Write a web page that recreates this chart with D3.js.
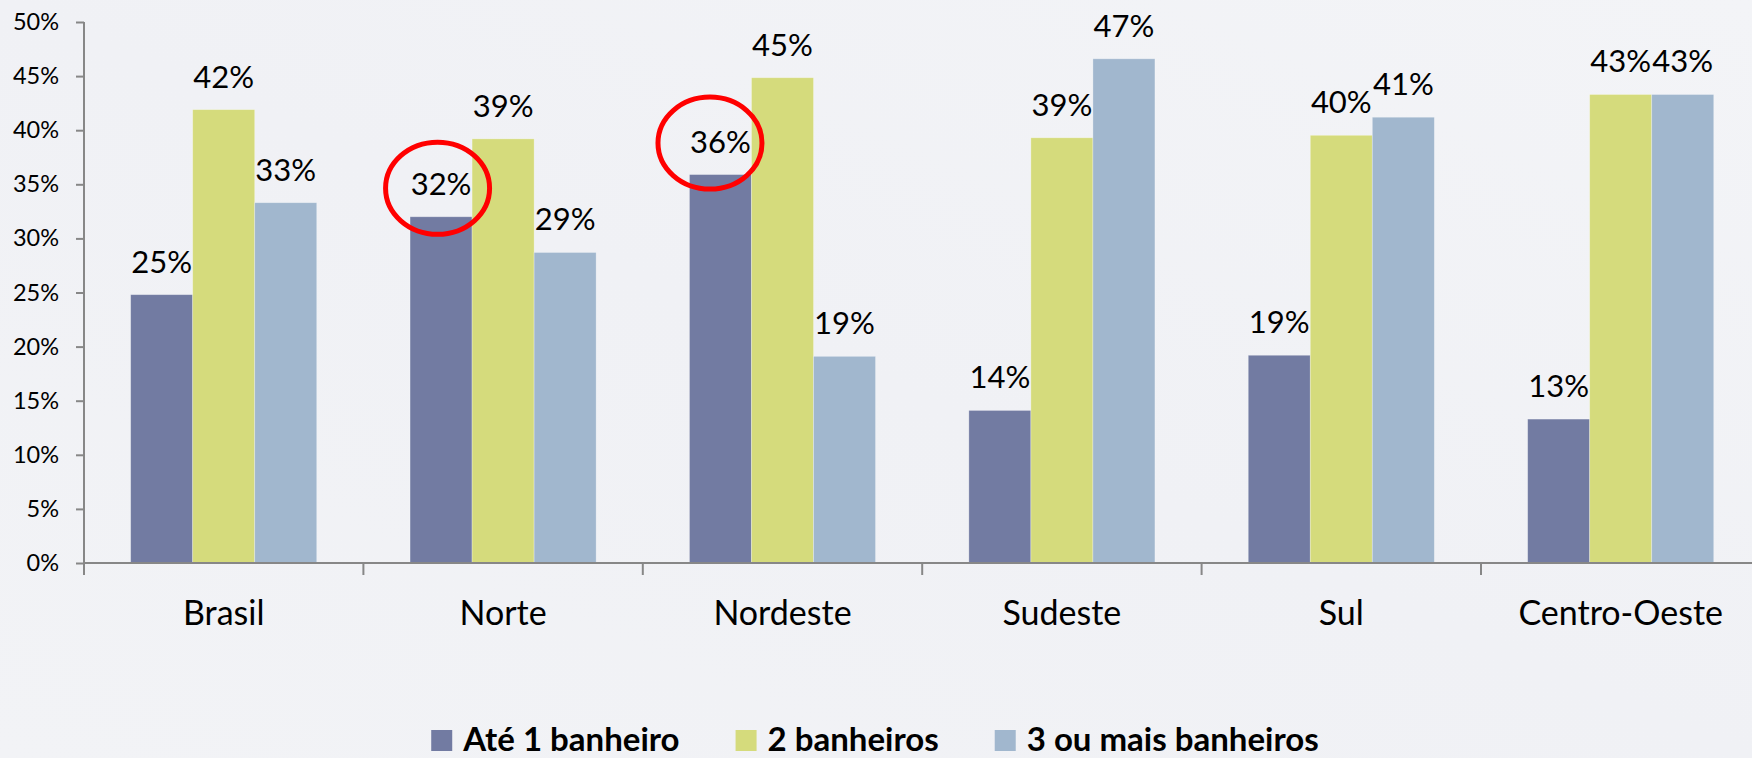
<!DOCTYPE html>
<html>
<head>
<meta charset="utf-8">
<script src="https://cdn.jsdelivr.net/npm/d3@7"></script>
<style>
  html, body { margin: 0; padding: 0; overflow: hidden; }
  body { width: 1752px; height: 758px; }
  svg { display: block; }
</style>
</head>
<body>
<svg id="chart" width="1752" height="758"></svg>
<script>
// ---- data ----
const categories = ["Brasil", "Norte", "Nordeste", "Sudeste", "Sul", "Centro-Oeste"];
const seriesNames = ["Até 1 banheiro", "2 banheiros", "3 ou mais banheiros"];
const ate1Banheiro = [24.8, 32.0, 35.9, 14.1, 19.2, 13.3];
const doisBanheiros = [41.9, 39.2, 44.85, 39.3, 39.53, 43.3];
const tresOuMais = [33.3, 28.7, 19.1, 46.6, 41.2, 43.3];
const yTickValues = [0, 5, 10, 15, 20, 25, 30, 35, 40, 45, 50];
const yTickLabels = ["0%", "5%", "10%", "15%", "20%", "25%", "30%", "35%", "40%", "45%", "50%"];
const highlighted = [
  { category: "Norte", series: "Até 1 banheiro", dx: -3.5, dy: -6.5 },
  { category: "Nordeste", series: "Até 1 banheiro", dx: -10.5, dy: -9.5 }
];

// ---- styles ----
const colors = ["#727ba2", "#d5db7c", "#a1b7ce"];
const FONT = "Lato, 'Open Sans', 'DejaVu Sans', sans-serif";
const axisColor = "#878787";

const svg = d3.select("#chart");
const W = 1752, H = 758;

// background
const defs = svg.append("defs");
const grad = defs.append("linearGradient").attr("id", "bg")
  .attr("x1", "0%").attr("y1", "100%").attr("x2", "100%").attr("y2", "0%");
grad.append("stop").attr("offset", "0%").attr("stop-color", "#f2f3f6");
grad.append("stop").attr("offset", "50%").attr("stop-color", "#f0f1f5");
grad.append("stop").attr("offset", "100%").attr("stop-color", "#f3f4f7");
svg.append("rect").attr("width", W).attr("height", H).attr("fill", "url(#bg)");

// ---- scales ----
const plotLeft = 84, step = 279.4;
const plotRight = plotLeft + step * categories.length;
const yBottom = 563, yTop = 22;

const x0 = d3.scaleBand().domain(categories).range([plotLeft, plotRight])
  .paddingInner(0.334).paddingOuter(0.167);
const x1 = d3.scaleBand().domain(seriesNames).range([0, x0.bandwidth()]).padding(0);
const y = d3.scaleLinear().domain([0, 50]).range([yBottom, yTop]);
const color = d3.scaleOrdinal().domain(seriesNames).range(colors);

const seriesValues = [ate1Banheiro, doisBanheiros, tresOuMais];
const rows = categories.map((c, i) => ({
  category: c,
  values: seriesNames.map((s, j) => ({ series: s, value: seriesValues[j][i], category: c }))
}));

// ---- y axis ----
const yAxis = d3.axisLeft(y).tickValues(yTickValues)
  .tickFormat((d, i) => yTickLabels[i]).tickSize(8).tickPadding(17);
const gy = svg.append("g").attr("transform", `translate(${plotLeft},0)`).call(yAxis);
gy.select(".domain").remove();
gy.selectAll(".tick line").attr("stroke", axisColor).attr("stroke-width", 2);
gy.selectAll(".tick text").attr("fill", "#000").style("font-family", FONT).style("font-size", "23.5px");
svg.append("line").attr("x1", plotLeft).attr("x2", plotLeft)
  .attr("y1", yTop).attr("y2", yBottom + 12)
  .attr("stroke", axisColor).attr("stroke-width", 2);

// ---- bars ----
const groups = svg.append("g").selectAll("g").data(rows).join("g")
  .attr("transform", d => `translate(${x0(d.category)},0)`);
groups.selectAll("rect").data(d => d.values).join("rect")
  .attr("x", d => x1(d.series))
  .attr("width", x1.bandwidth())
  .attr("y", d => y(d.value))
  .attr("height", d => y(0) - y(d.value))
  .attr("fill", d => color(d.series))
  .attr("stroke", "rgba(255,255,255,0.35)").attr("stroke-width", 0.8);

// ---- x axis ----
svg.append("line").attr("x1", plotLeft).attr("x2", W + 10)
  .attr("y1", yBottom).attr("y2", yBottom)
  .attr("stroke", axisColor).attr("stroke-width", 2);
const boundaries = d3.range(categories.length + 1).map(i => plotLeft + i * x0.step());
svg.append("g").selectAll("line").data(boundaries).join("line")
  .attr("x1", d => d).attr("x2", d => d)
  .attr("y1", yBottom).attr("y2", yBottom + 12)
  .attr("stroke", axisColor).attr("stroke-width", 2);
svg.append("g").selectAll("text").data(categories).join("text")
  .attr("x", d => x0(d) + x0.bandwidth() / 2)
  .attr("y", 625)
  .attr("text-anchor", "middle")
  .style("font-family", FONT).style("font-size", "34px").attr("fill", "#000")
  .text(d => d);

// ---- data labels ----
groups.selectAll("text").data(d => d.values).join("text")
  .attr("x", d => x1(d.series) + x1.bandwidth() / 2)
  .attr("y", d => y(d.value) - 22)
  .attr("text-anchor", "middle")
  .style("font-family", FONT).style("font-size", "31px").attr("fill", "#000")
  .text(d => Math.round(d.value) + "%");

// ---- highlight circles ----
svg.append("g").selectAll("ellipse").data(highlighted).join("ellipse")
  .attr("cx", d => x0(d.category) + x1(d.series) + x1.bandwidth() / 2 + d.dx)
  .attr("cy", d => {
    const v = seriesValues[seriesNames.indexOf(d.series)][categories.indexOf(d.category)];
    return y(v) - 22 + d.dy;
  })
  .attr("rx", 52).attr("ry", 46)
  .attr("fill", "none").attr("stroke", "#ff0000").attr("stroke-width", 5);

// ---- legend ----
const legend = svg.append("g");
const items = legend.selectAll("g").data(seriesNames).join("g");
items.append("rect").attr("width", 21).attr("height", 21).attr("y", 730)
  .attr("fill", d => color(d));
items.append("text").attr("x", 32).attr("y", 751)
  .style("font-family", FONT).style("font-size", "33px").style("font-weight", "bold")
  .attr("fill", "#000").text(d => d);
let cursor = 0;
const offsets = [];
items.each(function () {
  const tw = d3.select(this).select("text").node().getComputedTextLength();
  offsets.push(cursor);
  cursor += 32 + tw + 56;
});
const totalW = cursor - 56;
const startX = 875 - totalW / 2;
items.attr("transform", (d, i) => `translate(${startX + offsets[i]},0)`);
</script>
</body>
</html>
